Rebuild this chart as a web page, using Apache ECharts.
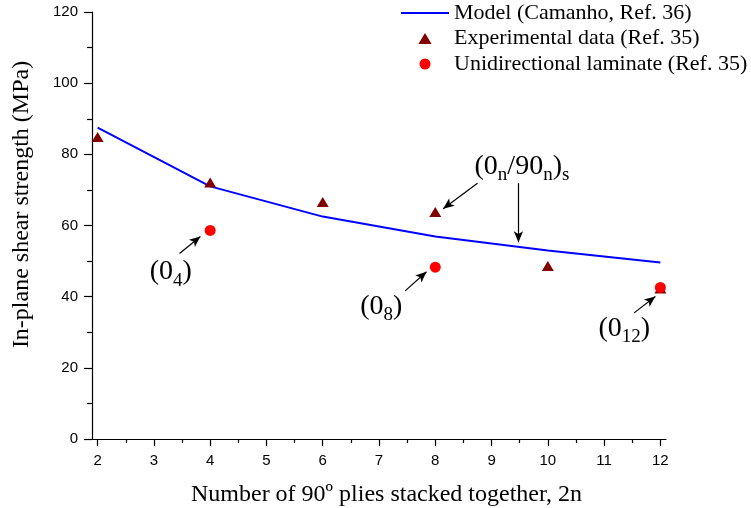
<!DOCTYPE html>
<html>
<head>
<meta charset="utf-8">
<script src="https://cdn.jsdelivr.net/npm/echarts@6/dist/echarts.min.js"></script>
<style>html,body{margin:0;padding:0;background:#fff;}#c{width:751px;height:508px;}</style>
</head>
<body>
<div id="c"></div>
<script>
// ---- data ----
const modelX = [2, 4, 6, 8, 10, 12];
const modelY = [87.5, 71.0, 62.5, 56.9, 53.0, 49.6];
const expX = [2, 4, 6, 8, 10, 12];
const expY = [84.9, 72.1, 66.6, 63.8, 48.6, 42.3];
const uniX = [4, 8, 12];
const uniY = [58.6, 48.3, 42.6];
const xRange = [1.9, 12.1];      // drawn extent of the x axis line
const xTickRange = [2, 12];      // first / last labelled x tick
const seriesNames = ['Model (Camanho, Ref. 36)', 'Experimental data (Ref. 35)', 'Unidirectional laminate (Ref. 35)'];
const annotTexts = ['{m|(0}{s|4}{m|)}', '{m|(0}{s|8}{m|)}', '{m|(0}{s|12}{m|)}', '{m|(0}{s|n}{m|/90}{s|n}{m|)}{s|s}'];
const annotAnchors = [[3.30, 46.9], [7.04, 37.3], [11.36, 31.1], [9.54, 76.5]];
const arrows = [
  [[3.456, 52.11], [3.826, 56.93]],
  [[7.465, 41.63], [7.844, 47.01]],
  [[11.533, 35.44], [11.911, 40.06]],
  [[8.750, 71.89], [8.140, 64.73]],
  [[9.478, 71.89], [9.478, 55.27]]
];

const SERIF = 'Liberation Serif';
const SANS = 'Liberation Sans';
const zip = (a, b) => a.map((v, i) => [v, b[i]]);

// grid geometry
const W = 751, GL = 92, GR = 85, GT = 12, GB = 69;
const pxPerUnit = (W - GL - GR) / (xRange[1] - xRange[0]);
const GL2 = GL + (xTickRange[0] - xRange[0]) * pxPerUnit;
const GR2 = GR + (xRange[1] - xTickRange[1]) * pxPerUnit;

const chart = echarts.init(document.getElementById('c'), null, {renderer: 'canvas'});
const option = {
  animation: false,
  backgroundColor: '#fff',
  grid: [
    {left: GL, right: GR, top: GT, bottom: GB, containLabel: false, outerBoundsMode: 'none'},
    {left: GL2, right: GR2, top: GT, bottom: GB, containLabel: false, outerBoundsMode: 'none'}
  ],
  legend: {
    orient: 'vertical', left: 400, top: 2, padding: 0,
    itemWidth: 48, itemHeight: 11, itemGap: 3.5,
    textStyle: {fontFamily: SERIF, fontSize: 22, color: '#000'},
    data: [
      {name: seriesNames[0], itemStyle: {color: 'rgba(0,0,0,0)', borderWidth: 0, opacity: 0}},
      {name: seriesNames[1], icon: 'path://M0,10L6,0L12,10Z'},
      {name: seriesNames[2], icon: 'circle'}
    ]
  },
  xAxis: [{
    gridIndex: 0, type: 'value', min: xRange[0], max: xRange[1],
    name: 'Number of 90º plies stacked together, 2n',
    nameLocation: 'middle', nameGap: 44, nameMoveOverlap: false,
    nameTextStyle: {fontFamily: SERIF, fontSize: 24, color: '#000', padding: [0, 0, 0, 15]},
    axisLine: {show: true, onZero: false, lineStyle: {color: '#000', width: 1.2}},
    axisTick: {show: false},
    axisLabel: {show: false},
    splitLine: {show: false}
  }, {
    gridIndex: 1, type: 'value', min: xTickRange[0], max: xTickRange[1], interval: 1,
    axisLine: {show: false, onZero: false},
    axisTick: {show: true, inside: false, length: 7, lineStyle: {color: '#000', width: 1.2}},
    minorTick: {show: true, splitNumber: 2, length: 4, lineStyle: {color: '#000', width: 1.2}},
    axisLabel: {show: true, interval: 0, hideOverlap: false, showMinLabel: true, showMaxLabel: true,
      margin: 14, fontFamily: SANS, fontSize: 15, color: '#000'},
    splitLine: {show: false}
  }],
  yAxis: [{
    gridIndex: 0, type: 'value', min: 0, max: 120, interval: 20,
    name: 'In-plane shear strength (MPa)',
    nameLocation: 'middle', nameGap: 58, nameMoveOverlap: false,
    nameTextStyle: {fontFamily: SERIF, fontSize: 24, color: '#000', padding: [0, 0, 0, 42]},
    axisLine: {show: true, onZero: false, lineStyle: {color: '#000', width: 1.2}},
    axisTick: {show: true, inside: false, length: 8, lineStyle: {color: '#000', width: 1.2}},
    minorTick: {show: true, splitNumber: 2, length: 5, lineStyle: {color: '#000', width: 1.2}},
    axisLabel: {margin: 14, fontFamily: SANS, fontSize: 15, color: '#000'},
    splitLine: {show: false}
  }, {
    gridIndex: 1, type: 'value', min: 0, max: 120, show: false
  }],
  series: [
    {
      name: seriesNames[0], type: 'line', data: zip(modelX, modelY),
      symbol: 'none', lineStyle: {color: '#0000ff', width: 2}, itemStyle: {color: '#0000ff'}, z: 2
    },
    {
      name: seriesNames[1], type: 'scatter', data: zip(expX, expY),
      symbol: 'triangle', symbolSize: [12, 10], itemStyle: {color: '#800000', opacity: 1}, z: 3
    },
    {
      name: seriesNames[2], type: 'scatter', data: zip(uniX, uniY),
      symbol: 'circle', symbolSize: 11, itemStyle: {color: '#ff0000', opacity: 1}, z: 4,
      markLine: {
        silent: true, animation: false,
        symbol: ['none', 'arrow'], symbolSize: [7, 11],
        lineStyle: {color: '#000', width: 1.2, type: 'solid', opacity: 1},
        label: {show: false},
        emphasis: {disabled: true},
        data: arrows.map(a => [{coord: a[0]}, {coord: a[1]}])
      }
    }
  ]
};
chart.setOption(option);

// annotation texts, positioned through the chart's own scales
chart.setOption({
  graphic: annotAnchors.map((p, i) => {
    const px = chart.convertToPixel({xAxisIndex: 0, yAxisIndex: 0}, p);
    return {
      type: 'text', x: px[0], y: px[1], silent: true, z: 100,
      style: {
        text: annotTexts[i], align: 'center', verticalAlign: 'middle', fill: '#000',
        rich: {
          m: {fontFamily: SERIF, fontSize: 28, fill: '#000'},
          s: {fontFamily: SERIF, fontSize: 19, fill: '#000', padding: [17, 0, 0, 0]}
        }
      }
    };
  })
});
</script>
</body>
</html>
